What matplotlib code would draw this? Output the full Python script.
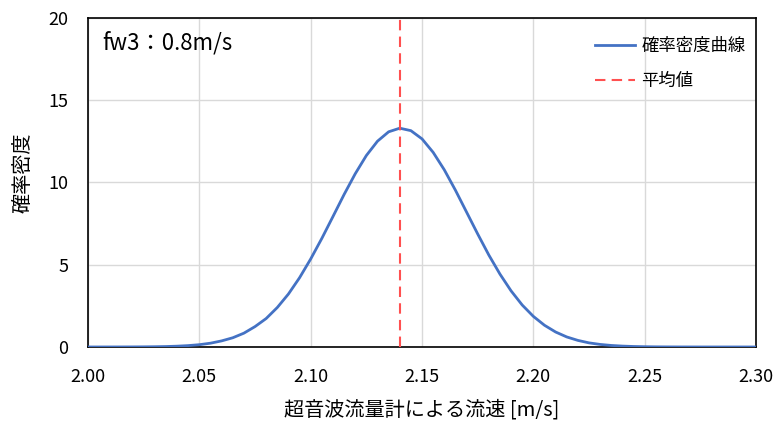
import numpy as np
import matplotlib
matplotlib.use("Agg")
import matplotlib.pyplot as plt

plt.rcParams['font.family'] = ['Noto Sans CJK JP', 'DejaVu Sans']

# flow speed [m/s] and probability density
speed = [2.000, 2.005, 2.010, 2.015, 2.020, 2.025, 2.030, 2.035, 2.040, 2.045,
         2.050, 2.055, 2.060, 2.065, 2.070, 2.075, 2.080, 2.085, 2.090, 2.095,
         2.100, 2.105, 2.110, 2.115, 2.120, 2.125, 2.130, 2.135, 2.140, 2.145,
         2.150, 2.155, 2.160, 2.165, 2.170, 2.175, 2.180, 2.185, 2.190, 2.195,
         2.200, 2.205, 2.210, 2.215, 2.220, 2.225, 2.230, 2.235, 2.240, 2.245,
         2.250, 2.255, 2.260, 2.265, 2.270, 2.275, 2.280, 2.285, 2.290, 2.295,
         2.300]
density = [0.000, 0.000, 0.001, 0.002, 0.004, 0.008, 0.015, 0.027, 0.049, 0.084,
           0.14, 0.23, 0.37, 0.56, 0.84, 1.24, 1.73, 2.40, 3.22, 4.21,
           5.35, 6.60, 7.93, 9.27, 10.53, 11.64, 12.51, 13.08, 13.30, 13.15,
           12.65, 11.83, 10.77, 9.53, 8.20, 6.87, 5.59, 4.43, 3.41, 2.55,
           1.86, 1.32, 0.91, 0.61, 0.40, 0.25, 0.155, 0.093, 0.054, 0.030,
           0.016, 0.008, 0.004, 0.002, 0.001, 0.000, 0.000, 0.000, 0.000, 0.000,
           0.000]
mean_speed = 2.14

x_ticks = [2.00, 2.05, 2.10, 2.15, 2.20, 2.25, 2.30]
y_ticks = [0, 5, 10, 15, 20]

fig = plt.figure(figsize=(7.77, 4.28), dpi=100)
ax = fig.add_axes([0.1133, 0.1893, 0.8597, 0.7687])

ax.plot(speed, density, color='#4472C4', linewidth=2, label='確率密度曲線', zorder=3)
ax.axvline(mean_speed, color='#FF5050', linestyle=(0, (5, 3)), linewidth=1.5,
           label='平均値', zorder=4)

ax.set_xlim(2.00, 2.30)
ax.set_ylim(0, 20)
ax.set_xticks(x_ticks)
ax.set_xticklabels([f'{v:.2f}' for v in x_ticks])
ax.set_yticks(y_ticks)
ax.tick_params(axis='both', length=0, labelsize=13)
ax.tick_params(axis='x', pad=15)
ax.tick_params(axis='y', pad=14)
ax.grid(True, color='#D9D9D9', linewidth=1)
ax.set_axisbelow(True)
for s in ax.spines.values():
    s.set_color('#000000')
    s.set_linewidth(1.2)

ax.set_xlabel('超音波流量計による流速 [m/s]', fontsize=14.5, labelpad=10)
ax.set_ylabel('確率密度', fontsize=14.5)
ax.yaxis.set_label_coords(-0.082, 0.53)

ax.text(0.022, 0.925, 'fw3：0.8m/s', transform=ax.transAxes, fontsize=16,
        va='center', ha='left')

ax.legend(loc='upper right', frameon=False, fontsize=12.5, handlelength=2.3,
          handletextpad=0.4, labelspacing=1.0, bbox_to_anchor=(1.008, 0.99))

fig.savefig('out.png', dpi=100)
